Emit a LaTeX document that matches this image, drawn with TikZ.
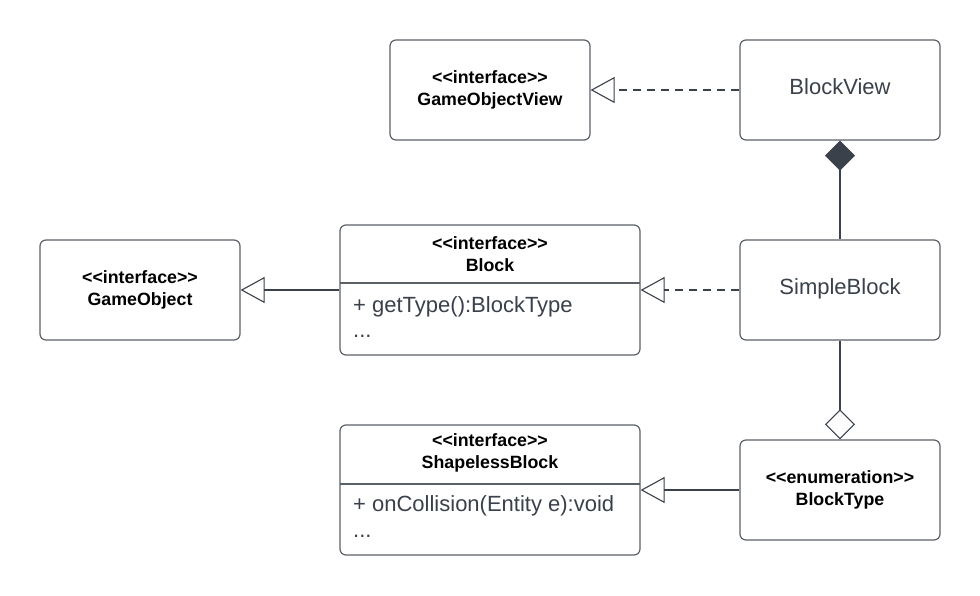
\documentclass[tikz,border=0pt]{standalone}
\usepackage{fontspec}
\newfontfamily\lsans{Liberation Sans}
\usetikzlibrary{arrows.meta}
\definecolor{ink}{HTML}{3A414A}
\definecolor{edgecol}{HTML}{5C6168}
\begin{document}
\begin{tikzpicture}[x=1pt,y=-1pt,
  box/.style={draw=edgecol, line width=1.2pt, rounded corners=6pt, fill=white, inner sep=0pt},
  boldtxt/.style={font=\lsans\fontsize{17.8}{22}\selectfont\bfseries, text=black, align=center, inner sep=0pt},
  plaintxt/.style={font=\lsans\fontsize{22}{26}\selectfont, text=ink, inner sep=0pt},
  conn/.style={draw=ink, line width=1.1pt},
  realize/.style={conn, dash pattern=on 8pt off 6pt, -{Triangle[open, length=24pt, width=26pt]}},
  general/.style={conn, -{Triangle[open, length=24pt, width=26pt]}},
  compo/.style={conn, {Diamond[length=30pt, width=30pt, fill=ink]}-},
  aggr/.style={conn, -{Diamond[open, length=30pt, width=30pt]}},
]
\fill[white] (0,0) rectangle (980,595);
\useasboundingbox (0,0) rectangle (980,595);

% GameObjectView
\node[box, minimum width=200pt, minimum height=100pt] (gov) at (490,90) {};
\node[boldtxt] (govt) at (490,90) {<<interface>>\\GameObjectView};

% BlockView
\node[box, minimum width=200pt, minimum height=100pt] (bv) at (840,90) {};
\node[plaintxt, anchor=base] (bvt) at (840,94) {BlockView};

% GameObject
\node[box, minimum width=200pt, minimum height=100pt] (go) at (140,290) {};
\node[boldtxt] (got) at (140,290) {<<interface>>\\GameObject};

% Block
\node[box, minimum width=300pt, minimum height=130pt] (blk) at (490,290) {};
\draw[draw=edgecol, line width=1.2pt] (340,283) -- (640,283);
\node[boldtxt] (blkt) at (490,254) {<<interface>>\\Block};
\node[plaintxt, anchor=base west] (blka) at (353,312) {+ getType():BlockType};
\node[plaintxt, anchor=base west] (blkd) at (353,337) {...};

% SimpleBlock
\node[box, minimum width=200pt, minimum height=100pt] (sb) at (840,290) {};
\node[plaintxt, anchor=base] (sbt) at (840,294) {SimpleBlock};

% ShapelessBlock
\node[box, minimum width=300pt, minimum height=130pt] (sbl) at (490,490) {};
\draw[draw=edgecol, line width=1.2pt] (340,484) -- (640,484);
\node[boldtxt] (sblt) at (490,453) {<<interface>>\\ShapelessBlock};
\node[plaintxt, anchor=base west] (sbla) at (353,511) {+ onCollision(Entity e):void};
\node[plaintxt, anchor=base west] (sbld) at (353,537) {...};

% BlockType
\node[box, minimum width=200pt, minimum height=100pt] (bt) at (840,490) {};
\node[boldtxt] (btt) at (840,490) {<<enumeration>>\\BlockType};

% connectors
\draw[realize] (bv.west) -- (gov.east);
\draw[general] (blk.west) -- (go.east);
\draw[realize] (sb.west) -- (blk.east);
\draw[general] (bt.west) -- (sbl.east);
\draw[compo] (bv.south) -- (sb.north);
\draw[aggr] (sb.south) -- (bt.north);
\end{tikzpicture}
\end{document}
